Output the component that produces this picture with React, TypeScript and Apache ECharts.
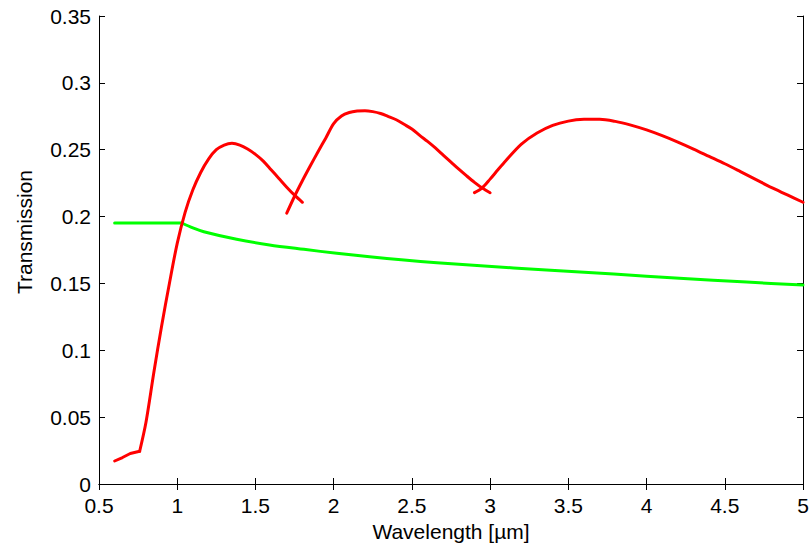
import React, { useEffect, useRef } from "react";
import * as echarts from "echarts";

// Red curve (wavelength µm, transmission), drawn in overlapping pieces
const red1aX = [0.6, 0.65, 0.7, 0.76];
const red1aY = [0.0172, 0.0198, 0.0228, 0.0245];

const red1bX = [0.76, 0.8, 0.85, 0.9, 0.95, 1.0, 1.05, 1.1, 1.15, 1.2, 1.25, 1.3, 1.35, 1.4, 1.45, 1.5, 1.55, 1.6, 1.65, 1.7, 1.75, 1.8];
const red1bY = [0.0245, 0.046, 0.083, 0.118, 0.15, 0.18, 0.203, 0.22, 0.233, 0.243, 0.25, 0.2535, 0.2548, 0.2535, 0.2505, 0.2465, 0.2415, 0.235, 0.2285, 0.222, 0.216, 0.2107];

const red2X = [1.7, 1.75, 1.8, 1.85, 1.9, 1.95, 2.0, 2.05, 2.1, 2.15, 2.2, 2.25, 2.3, 2.35, 2.4, 2.45, 2.5, 2.55, 2.6, 2.65, 2.7, 2.75, 2.8, 2.85, 2.9, 2.95, 3.0];
const red2Y = [0.2025, 0.2152, 0.2268, 0.2378, 0.2485, 0.2588, 0.2695, 0.2752, 0.2778, 0.2789, 0.2792, 0.2785, 0.2771, 0.2748, 0.2724, 0.269, 0.2655, 0.2607, 0.2562, 0.2513, 0.246, 0.2407, 0.2354, 0.2304, 0.2256, 0.2213, 0.2178];

const red3X = [2.9, 2.95, 3.0, 3.05, 3.1, 3.2, 3.3, 3.4, 3.5, 3.6, 3.7, 3.8, 3.9, 4.0, 4.1, 4.2, 4.3, 4.4, 4.5, 4.6, 4.7, 4.8, 4.9, 5.0];
const red3Y = [0.2179, 0.2215, 0.228, 0.235, 0.2418, 0.2542, 0.2625, 0.2682, 0.2714, 0.2727, 0.2728, 0.2712, 0.2684, 0.2648, 0.2605, 0.2557, 0.2505, 0.245, 0.2395, 0.2336, 0.2276, 0.2216, 0.2162, 0.2107];

// Green curve
const greenAX = [0.6, 1.03];
const greenAY = [0.1952, 0.1952];
const greenBX = [1.03, 1.1, 1.17, 1.38, 1.59, 1.81, 2.02, 2.23, 2.45, 2.66, 2.94, 3.36, 3.79, 4.21, 4.64, 5.0];
const greenBY = [0.1952, 0.1915, 0.1887, 0.183, 0.1788, 0.1755, 0.1725, 0.17, 0.1675, 0.1655, 0.1633, 0.16, 0.157, 0.1538, 0.151, 0.1488];

const xTicks = { min: 0.5, max: 5, interval: 0.5 };
const yTicks = { min: 0, max: 0.35, interval: 0.05 };

const xName = "Wavelength [µm]";
const yName = "Transmission";

const pairs = (xs: number[], ys: number[]) => xs.map((x, i) => [x, ys[i]]);

export default function App() {
  const ref = useRef<HTMLDivElement>(null);
  useEffect(() => {
    if (!ref.current) return;
    const chart = echarts.init(ref.current, null, { renderer: "svg" });
    const font = "'Liberation Sans', Arial, Helvetica, sans-serif";
    const fs = 21;
    const fmt = (v: number) => String(parseFloat(v.toFixed(2)));
    const axisLine = { show: true, lineStyle: { color: "#000", width: 1 } };
    const tick = { show: true, inside: true, length: 6, lineStyle: { color: "#000" } };
    const line = (xs: number[], ys: number[], color: string, smooth: number | boolean) => ({
      type: "line",
      data: pairs(xs, ys),
      smooth,
      showSymbol: false,
      lineStyle: { color, width: 3, cap: "round", join: "round" },
    });
    chart.setOption({
      animation: false,
      backgroundColor: "#fff",
      grid: { left: 99, right: 9, top: 16, bottom: 66, containLabel: false },
      xAxis: [
        {
          type: "value",
          min: xTicks.min,
          max: xTicks.max,
          interval: xTicks.interval,
          position: "bottom",
          name: xName,
          nameLocation: "middle",
          nameGap: 29,
          nameTextStyle: { color: "#000", fontSize: fs, fontFamily: font },
          axisLine,
          axisTick: tick,
          splitLine: { show: false },
          axisLabel: { color: "#000", fontSize: fs, fontFamily: font, margin: 11, formatter: fmt },
        },
        {
          type: "value",
          min: xTicks.min,
          max: xTicks.max,
          interval: xTicks.interval,
          position: "top",
          axisLine,
          axisTick: tick,
          splitLine: { show: false },
          axisLabel: { show: false },
        },
      ],
      yAxis: [
        {
          type: "value",
          min: yTicks.min,
          max: yTicks.max,
          interval: yTicks.interval,
          position: "left",
          name: yName,
          nameLocation: "middle",
          nameGap: 64,
          nameTextStyle: { color: "#000", fontSize: fs, fontFamily: font, padding: [0, 0, 0, 36] },
          axisLine,
          axisTick: tick,
          splitLine: { show: false },
          axisLabel: { color: "#000", fontSize: fs, fontFamily: font, margin: 8, formatter: fmt },
        },
        {
          type: "value",
          min: yTicks.min,
          max: yTicks.max,
          interval: yTicks.interval,
          position: "right",
          axisLine,
          axisTick: tick,
          splitLine: { show: false },
          axisLabel: { show: false },
        },
      ],
      series: [
        line(greenAX, greenAY, "#00ff00", false),
        line(greenBX, greenBY, "#00ff00", 0.3),
        line(red1aX, red1aY, "#ff0000", false),
        line(red1bX, red1bY, "#ff0000", 0.3),
        line(red2X, red2Y, "#ff0000", 0.3),
        line(red3X, red3Y, "#ff0000", 0.3),
      ],
    });
    return () => chart.dispose();
  }, []);
  return <div ref={ref} style={{ position: "fixed", left: 0, top: 0, width: 812, height: 550 }} />;
}
